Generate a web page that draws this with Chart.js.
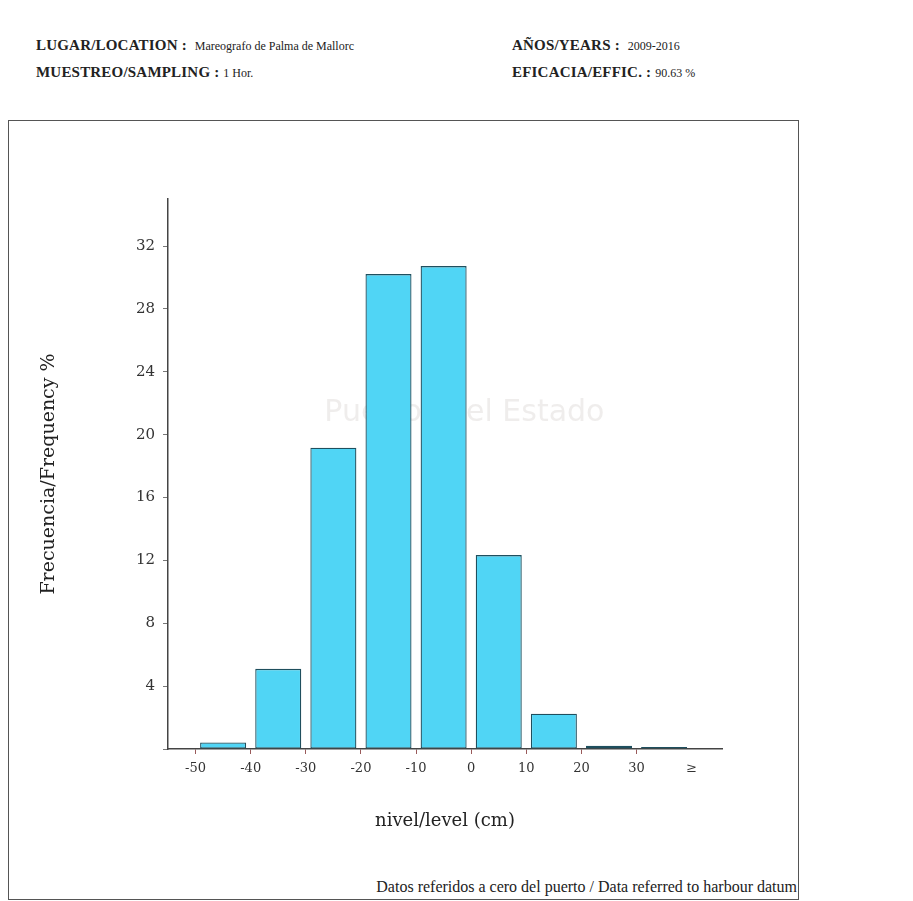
<!DOCTYPE html>
<html lang="es">
<head>
  <meta charset="UTF-8" />
  <title>Histograma de nivel del mar - Palma de Mallorca</title>
  <script src="https://cdn.jsdelivr.net/npm/chart.js"></script>
  <style>
    body {
      margin: 0;
      background: #fff;
      width: 913px;
      height: 901px;
      overflow: hidden;
      position: relative;
      font-family: "Liberation Serif", serif;
      color: #222;
    }
    .hd {
      position: absolute;
      white-space: nowrap;
      font-size: 15px;
      font-weight: bold;
      letter-spacing: 0.2px;
    }
    .hd span {
      font-weight: normal;
      font-size: 12px;
      letter-spacing: 0;
    }
    #frame {
      position: absolute;
      left: 8px;
      top: 120px;
      width: 789px;
      height: 778px;
      border: 1.5px solid #555;
    }
    #histCanvas {
      position: absolute;
      left: 11px;
      top: 123px;
    }
    #nota {
      position: absolute;
      right: 116px;
      top: 878px;
      font-size: 16px;
      white-space: nowrap;
    }
  </style>
</head>
<body>
  <div class="hd" style="left:36px; top:37px;">LUGAR/LOCATION : &nbsp;<span>Mareografo de Palma de Mallorc</span></div>
  <div class="hd" style="left:512px; top:37px;">AÑOS/YEARS : &nbsp;<span>2009-2016</span></div>
  <div class="hd" style="left:36px; top:64px;">MUESTREO/SAMPLING : <span>1 Hor.</span></div>
  <div class="hd" style="left:512px; top:64px;">EFICACIA/EFFIC. : <span>90.63 %</span></div>

  <div id="frame"></div>
  <canvas id="histCanvas" width="784" height="720"></canvas>
  <div id="nota">Datos referidos a cero del puerto / Data referred to harbour datum</div>

<script>
// intervalos de 10 cm, centro de cada clase
const binCenters = [-45, -35, -25, -15, -5, 5, 15, 25, 35];
// frecuencia (%)
const frequencies = [0.42, 5.1, 19.17, 30.22, 30.73, 12.34, 2.24, 0.2, 0.12];

const xTickValues = [-50, -40, -30, -20, -10, 0, 10, 20, 30, 40];
const xTickLabels = ["-50", "-40", "-30", "-20", "-10", "0", "10", "20", "30", "≥"];
const yTickValues = [0, 4, 8, 12, 16, 20, 24, 28, 32];

const serif = "'DejaVu Serif', 'Liberation Serif', serif";

// marca de agua tenue detras de las barras
const marcaAgua = {
  id: "marcaAgua",
  beforeDatasetsDraw(chart) {
    const { ctx, chartArea } = chart;
    ctx.save();
    ctx.font = "30px 'DejaVu Sans', sans-serif";
    ctx.fillStyle = "rgba(190,185,180,0.25)";
    ctx.textAlign = "center";
    ctx.textBaseline = "middle";
    const x = chartArea.left + chartArea.width * 0.535;
    const y = chartArea.top + chartArea.height * 0.39;
    ctx.fillText("Puertos del Estado", x, y);
    ctx.restore();
  }
};

const ctx = document.getElementById("histCanvas").getContext("2d");
new Chart(ctx, {
  type: "bar",
  data: {
    datasets: [{
      label: "Frecuencia",
      data: binCenters.map((c, i) => ({ x: c, y: frequencies[i] })),
      backgroundColor: "#50d5f5",
      borderColor: "#1f4f5e",
      borderWidth: 1.3,
      borderSkipped: false,
      barPercentage: 0.835,
      categoryPercentage: 1.0,
    }]
  },
  options: {
    responsive: false,
    animation: false,
    layout: {
      padding: { left: 23, right: 73, top: 76, bottom: 7 }
    },
    plugins: {
      legend: { display: false },
      tooltip: { enabled: false }
    },
    scales: {
      x: {
        type: "linear",
        offset: false,
        min: -55,
        max: 45.5,
        afterFit(scale) { scale.height = 87; },
        afterBuildTicks(axis) {
          axis.ticks = xTickValues.map(v => ({ value: v }));
        },
        border: { display: true, color: "#444", width: 1.5 },
        grid: {
          offset: false,
          drawOnChartArea: false,
          drawTicks: true,
          tickLength: 5,
          tickColor: c => (c.tick && c.tick.value === 40) ? "rgba(0,0,0,0)" : "#9a5a5a"
        },
        ticks: {
          color: "#333",
          padding: 7,
          maxRotation: 0,
          autoSkip: false,
          font: { family: serif, size: 13 },
          callback: (v) => {
            const i = xTickValues.indexOf(v);
            return i >= 0 ? xTickLabels[i] : "";
          }
        },
        title: {
          display: true,
          text: "nivel/level (cm)",
          color: "#222",
          font: { family: serif, size: 18 },
          padding: { top: 4, bottom: 4 }
        }
      },
      y: {
        min: 0,
        max: 35,
        afterFit(scale) { scale.width = 134; },
        afterBuildTicks(axis) {
          axis.ticks = yTickValues.map(v => ({ value: v }));
        },
        border: { display: true, color: "#444", width: 1.5 },
        grid: {
          drawOnChartArea: false,
          drawTicks: true,
          tickLength: 5,
          tickColor: "#777"
        },
        ticks: {
          color: "#333",
          padding: 8,
          font: { family: serif, size: 15 },
          callback: v => v === 0 ? "" : v
        },
        title: {
          display: true,
          text: "Frecuencia/Frequency %",
          color: "#222",
          font: { family: serif, size: 19 },
          padding: { top: 4, bottom: 4 }
        }
      }
    }
  },
  plugins: [marcaAgua]
});
</script>
</body>
</html>
